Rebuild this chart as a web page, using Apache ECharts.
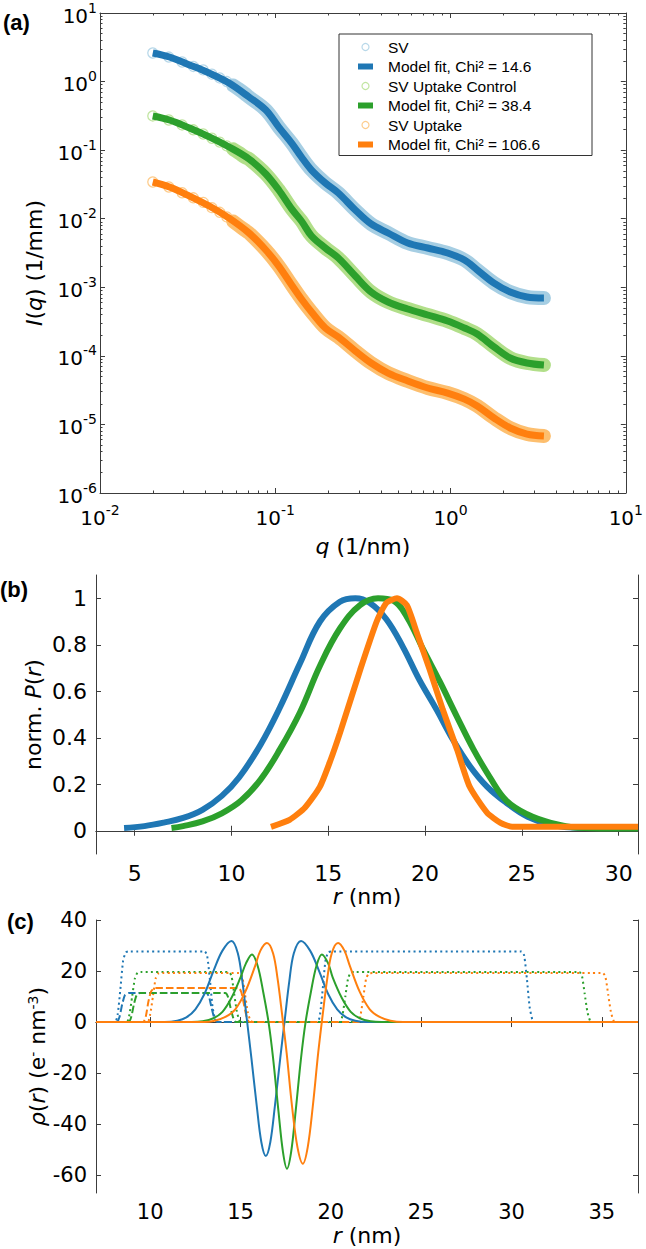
<!DOCTYPE html>
<html><head><meta charset="utf-8">
<script src="https://cdn.jsdelivr.net/npm/echarts@6/dist/echarts.min.js"></script>
<style>html,body{margin:0;padding:0;background:#fff}#c{width:646px;height:1249px}</style>
</head><body><div id="c"></div>
<script>
// ---------- Panel (a): SAXS curves ----------
const qData = [0.02,0.0247,0.0294,0.0341,0.0388,0.0435,0.0482,0.0529,0.0576,0.0623,0.067,0.0708,0.0883,0.1047,0.124,0.141,0.161,0.193,0.229,0.286,0.352,0.44,0.57,0.741,0.962,1.20,1.42,1.77,2.19,2.73,3.41];
const svData = [2.61,2.28,1.93,1.66,1.48,1.28,1.13,1.0,0.877,0.766,0.668,0.595,0.385,0.217,0.127,0.0794,0.0513,0.0332,0.0237,0.0134,0.00838,0.00619,0.00443,0.00374,0.00316,0.00250,0.00179,0.00115,0.000853,0.000722,0.000698];
const ctrlData = [0.315,0.275,0.233,0.198,0.172,0.149,0.131,0.115,0.1026,0.0905,0.0794,0.0743,0.0449,0.0262,0.0139,0.00927,0.00560,0.00374,0.00267,0.00146,0.000853,0.000610,0.000482,0.000394,0.000322,0.000255,0.000208,0.000135,0.0000931,0.0000787,0.0000736];
const uptData = [0.0343,0.0290,0.0239,0.0202,0.0173,0.0145,0.0124,0.0106,0.0091,0.00783,0.00684,0.00619,0.00350,0.00204,0.00108,0.000675,0.000436,0.000255,0.000188,0.000118,0.0000787,0.0000562,0.0000430,0.0000340,0.0000287,0.0000234,0.0000186,0.0000124,0.00000887,0.00000724,0.00000678];
const qFit = [0.02,0.0249,0.0324,0.042,0.0545,0.0708,0.0883,0.1047,0.124,0.141,0.161,0.193,0.229,0.286,0.352,0.44,0.57,0.741,0.962,1.20,1.42,1.77,2.19,2.73,3.41];
const svFit = [2.61,2.28,1.75,1.33,0.953,0.595,0.385,0.217,0.127,0.0794,0.0513,0.0332,0.0237,0.0134,0.00838,0.00619,0.00443,0.00374,0.00316,0.00250,0.00179,0.00115,0.000853,0.000722,0.000698];
const ctrlFit = [0.315,0.275,0.210,0.156,0.111,0.0743,0.0449,0.0262,0.0139,0.00927,0.00560,0.00374,0.00267,0.00146,0.000853,0.000610,0.000482,0.000394,0.000322,0.000255,0.000208,0.000135,0.0000931,0.0000787,0.0000736];
const uptFit = [0.0343,0.0290,0.0214,0.0153,0.0102,0.00619,0.00350,0.00204,0.00108,0.000675,0.000436,0.000255,0.000188,0.000118,0.0000787,0.0000562,0.0000430,0.0000340,0.0000287,0.0000234,0.0000186,0.0000124,0.00000887,0.00000724,0.00000678];
const seriesNamesA = ['SV','Model fit, Chi\u00b2 = 14.6','SV Uptake Control','Model fit, Chi\u00b2 = 38.4','SV Uptake','Model fit, Chi\u00b2 = 106.6'];
const decadesX = [0.01,0.1,1,10];
const minorX = [0.02,0.03,0.04,0.05,0.06,0.07,0.08,0.09,0.2,0.3,0.4,0.5,0.6,0.7,0.8,0.9,2,3,4,5,6,7,8,9];
const decadesY = [1e-6,1e-5,1e-4,1e-3,1e-2,1e-1,1,10];
const minorY = [];
[1e-6,1e-5,1e-4,1e-3,1e-2,1e-1,1].forEach(d=>{for(let k=2;k<=9;k++) minorY.push(+(d*k).toPrecision(3));});

// ---------- Panel (b): size distributions ----------
const pSV = [[4.45,0.012],[5.5,0.02],[6.5,0.035],[7.5,0.055],[8.5,0.09],[9.5,0.15],[10.4,0.23],[11.5,0.37],[12.5,0.53],[13.54,0.72],[14.57,0.9],[15.6,0.985],[16.4,1.0],[17.15,0.98],[18.0,0.91],[18.86,0.79],[19.7,0.65],[20.6,0.52],[21.45,0.39],[22.3,0.28],[23.2,0.19],[24.2,0.12],[25.3,0.06],[26.5,0.026],[27.9,0.013],[29.5,0.012],[31,0.012]];
const pCtrl = [[6.9,0.012],[7.5,0.02],[8.5,0.04],[9.5,0.075],[10.5,0.13],[11.5,0.22],[12.5,0.35],[13.54,0.51],[14.57,0.71],[15.6,0.87],[16.64,0.97],[17.57,1.0],[18.35,0.99],[19.06,0.92],[19.9,0.78],[20.77,0.64],[21.65,0.49],[22.5,0.35],[23.35,0.23],[24.2,0.13],[25.3,0.07],[26.5,0.034],[27.9,0.013],[29.5,0.01],[31,0.01]];
const pUpt = [[12.04,0.017],[13.0,0.047],[13.8,0.1],[14.57,0.19],[15.1,0.3],[15.6,0.42],[16.64,0.69],[17.5,0.9],[18.0,0.98],[18.55,1.0],[19.06,0.97],[19.58,0.85],[20.25,0.69],[20.92,0.52],[21.65,0.35],[22.3,0.19],[23.2,0.078],[23.9,0.034],[24.5,0.017],[31,0.017]];
const ticksRb = [5,10,15,20,25,30];
const ticksPb = [0,0.2,0.4,0.6,0.8,1];

// ---------- Panel (c): electron density profiles ----------
const rhoSVsolid = [[7,0],[10.8,0],[11.5,0.5],[12.0,1.8],[12.5,5],[13.0,11],[13.5,20],[14.0,28],[14.5,31.8],[14.85,27],[15.1,16],[15.35,1],[15.6,-14],[15.9,-33],[16.15,-47],[16.4,-52.5],[16.65,-47],[16.9,-33],[17.2,-14],[17.45,1],[17.7,16],[17.95,27],[18.35,31.8],[18.85,28],[19.35,20],[19.85,11],[20.35,5],[20.85,1.8],[21.35,0.5],[22,0],[37,0]];
const rhoCtrlSolid = [[7,0],[12.3,0],[12.9,0.3],[13.5,1.5],[14.0,4],[14.5,9.5],[15.0,17.5],[15.3,23],[15.63,26.5],[15.95,22],[16.25,12],[16.55,0],[16.8,-14],[17.1,-35],[17.35,-51],[17.57,-57.5],[17.8,-51],[18.05,-35],[18.35,-14],[18.6,0],[18.9,12],[19.2,22],[19.5,26.5],[19.85,23],[20.1,17.5],[20.6,9.5],[21.1,4],[21.6,1.5],[22.2,0.3],[22.8,0],[37,0]];
const rhoUptSolid = [[7,0],[13.0,0],[13.56,0.5],[14.16,2],[14.71,5],[15.26,11.8],[15.81,22],[16.1,28],[16.46,31],[16.8,27],[17.05,17],[17.3,3],[17.55,-12],[17.85,-33],[18.15,-49],[18.45,-55.5],[18.72,-49],[19.0,-33],[19.3,-12],[19.55,3],[19.8,17],[20.05,27],[20.4,31],[20.75,28],[21.05,22],[21.6,11.8],[22.15,5],[22.7,2],[23.3,0.5],[24,0],[37,0]];
const rhoSVdot = [[7,0],[8.05,0],[8.2,3],[8.35,13],[8.5,24],[8.65,27.3],[8.85,27.7],[13.0,27.7],[13.15,26],[13.3,17],[13.45,6],[13.6,1],[13.75,0],[19.25,0],[19.4,3],[19.55,13],[19.7,24],[19.85,27.3],[20.05,27.7],[30.55,27.7],[30.7,26],[30.85,17],[31.0,6],[31.15,1],[31.3,0],[37,0]];
const rhoCtrlDot = [[7,0],[8.7,0],[8.85,3],[9.0,10],[9.15,17],[9.3,19.4],[9.5,19.6],[14.35,19.6],[14.5,18],[14.65,11],[14.8,4],[14.95,0.5],[15.1,0],[20.5,0],[20.65,3],[20.8,10],[20.95,17],[21.1,19.4],[21.3,19.6],[33.75,19.6],[33.9,18],[34.05,11],[34.2,4],[34.35,0.5],[34.5,0],[37,0]];
const rhoUptDot = [[7,0],[9.85,0],[10.0,3],[10.15,10],[10.3,17],[10.45,19],[10.65,19.2],[14.95,19.2],[15.1,17.6],[15.25,10.8],[15.4,4],[15.55,0.5],[15.7,0],[21.5,0],[21.65,3],[21.8,10],[21.95,17],[22.1,19],[22.3,19.2],[35.05,19.2],[35.2,17.6],[35.35,10.8],[35.5,4],[35.65,0.5],[35.8,0],[37,0]];
const rhoSVdash = [[7,0],[8.15,0],[8.3,2],[8.45,7],[8.6,10.5],[8.8,11.4],[13.1,11.4],[13.25,10],[13.4,5.5],[13.55,1.5],[13.7,0],[37,0]];
const rhoCtrlDash = [[7,0],[8.8,0],[8.95,2],[9.1,7],[9.25,10.5],[9.45,11.4],[14.15,11.4],[14.3,10],[14.45,5.5],[14.6,1.5],[14.75,0],[37,0]];
const rhoUptDash = [[7,0],[9.6,0],[9.75,2],[9.9,8],[10.05,12],[10.25,13.3],[14.9,13.3],[15.05,11.6],[15.2,6.5],[15.35,1.7],[15.5,0],[37,0]];
const ticksRc = [10,15,20,25,30,35];
const ticksRhoC = [-60,-40,-20,0,20,40];

// ---------- styling ----------
const FONT = 'DejaVu Sans';
const AX = '#3c3c3c';
const C = {blue:'#1f77b4', green:'#2ca02c', orange:'#ff7f0e', lblue:'#a6cee3', lgreen:'#b2df8a', lorange:'#fdbf6f'};
const powRich = {
  b:{fontFamily:FONT, fontSize:20, color:'#000', lineHeight:25, verticalAlign:'bottom'},
  s:{fontFamily:FONT, fontSize:14, color:'#000', lineHeight:15, verticalAlign:'top'}
};
function powFmt(v){ const e = Math.round(Math.log10(v)); return '{b|10}{s|' + (e<0 ? '-' + (-e) : e) + '}'; }
const NAMESZ = 22;
function nameStyle(pad){ return {fontFamily:FONT, fontSize:NAMESZ, color:'#000', padding:pad||0, rich:{
  i:{fontFamily:FONT, fontSize:NAMESZ, fontStyle:'italic', color:'#000'},
  s:{fontFamily:FONT, fontSize:14, color:'#000', verticalAlign:'top', lineHeight:14}}}; }

function ax(o){
  const a = {
    gridIndex:o.g, type:o.type||'value', position:o.pos,
    min:o.min, max:o.max, splitLine:{show:false},
    axisLine:{show:o.line!==false, lineStyle:{color:AX, width:1}},
    axisTick:{show:true, inside:true, length:(o.len||5), customValues:o.ticks, lineStyle:{color:AX, width:1}},
    axisLabel:o.labels ? Object.assign({show:true, customValues:o.ticks, color:'#000', fontFamily:FONT, fontSize:o.fs||21}, o.labels) : {show:false}
  };
  if (o.type === 'log') a.logBase = 10;
  if (o.name) Object.assign(a, {name:o.name, nameLocation:'middle', nameGap:o.nameGap, nameRotate:o.nameRotate||0, nameMoveOverlap:false, nameTextStyle:nameStyle(o.namePad)});
  return a;
}

const xAxis = [
  ax({g:0,type:'log',pos:'bottom',min:0.01,max:10,ticks:decadesX,labels:{formatter:powFmt,rich:powRich,margin:10},name:'{i|q} (1/nm)',nameGap:42}),
  ax({g:0,type:'log',pos:'bottom',min:0.01,max:10,ticks:minorX,len:2.5,line:false}),
  ax({g:0,type:'log',pos:'top',min:0.01,max:10,ticks:decadesX}),
  ax({g:0,type:'log',pos:'top',min:0.01,max:10,ticks:minorX,len:2.5,line:false}),
  ax({g:1,pos:'bottom',min:3,max:31,ticks:ticksRb,fs:22,labels:{margin:8},name:'{i|r} (nm)',nameGap:31}),
  ax({g:1,pos:'top',min:3,max:31,ticks:ticksRb}),
  ax({g:2,pos:'bottom',min:7,max:37,ticks:ticksRc,fs:21,labels:{margin:8},name:'{i|r} (nm)',nameGap:31}),
  ax({g:2,pos:'top',min:7,max:37,ticks:ticksRc})
];
const yAxis = [
  ax({g:0,type:'log',pos:'left',min:1e-6,max:10,ticks:decadesY,labels:{formatter:powFmt,rich:powRich,margin:3},name:'{i|I}({i|q}) (1/mm)',nameGap:55,nameRotate:90,namePad:[0,20,0,0]}),
  ax({g:0,type:'log',pos:'left',min:1e-6,max:10,ticks:minorY,len:2.5,line:false}),
  ax({g:0,type:'log',pos:'right',min:1e-6,max:10,ticks:decadesY}),
  ax({g:0,type:'log',pos:'right',min:1e-6,max:10,ticks:minorY,len:2.5,line:false}),
  ax({g:1,pos:'left',min:-0.1,max:1.1,ticks:ticksPb,fs:22,labels:{margin:9},name:'norm. {i|P}({i|r})',nameGap:52,nameRotate:90}),
  ax({g:1,pos:'right',min:-0.1,max:1.1,ticks:ticksPb}),
  ax({g:2,pos:'left',min:-67,max:40,ticks:ticksRhoC,fs:21,labels:{margin:9},name:'{i|\u03c1}({i|r}) (e{s|-} nm{s|-3})',nameGap:48,nameRotate:90}),
  ax({g:2,pos:'right',min:-67,max:40,ticks:ticksRhoC})
];

const series = [];
const groupsA = [
  {d:svData, f:svFit, light:C.lblue, dark:C.blue, n:0},
  {d:ctrlData, f:ctrlFit, light:C.lgreen, dark:C.green, n:2},
  {d:uptData, f:uptFit, light:C.lorange, dark:C.orange, n:4}
];
groupsA.forEach(gr=>{
  const pts = qData.map((q,i)=>[q, gr.d[i]]);
  series.push({type:'line', name:seriesNamesA[gr.n]+' band', xAxisIndex:0, yAxisIndex:0, data:pts.filter(p=>p[0]>=0.057),
    showSymbol:false, smooth:0.35, silent:true, lineStyle:{color:gr.light, width:14, cap:'round', join:'round'}, z:1});
  series.push({type:'scatter', name:seriesNamesA[gr.n], xAxisIndex:0, yAxisIndex:0, data:pts, symbol:'circle', symbolSize:10,
    itemStyle:{color:'rgba(255,255,255,0)', borderColor:gr.light, borderWidth:1.3}, z:2, silent:true});
  series.push({type:'line', name:seriesNamesA[gr.n+1], xAxisIndex:0, yAxisIndex:0, data:qFit.map((q,i)=>[q, gr.f[i]]),
    showSymbol:false, smooth:0.35, lineStyle:{color:gr.dark, width:7, cap:'butt'}, z:3, silent:true});
});
[[pSV,C.blue,0.4],[pCtrl,C.green,0.4],[pUpt,C.orange,0.2]].forEach(([d,c,s])=>{
  series.push({type:'line', xAxisIndex:4, yAxisIndex:4, data:d, showSymbol:false, smooth:s, silent:true, lineStyle:{color:c, width:6}});
});
const dotT = [2,3.3], dashT = [7.4,3.2];
[[rhoSVdot,C.blue,dotT],[rhoCtrlDot,C.green,dotT],[rhoUptDot,C.orange,dotT],
 [rhoSVdash,C.blue,dashT],[rhoCtrlDash,C.green,dashT],[rhoUptDash,C.orange,dashT],
 [rhoSVsolid,C.blue,'solid'],[rhoCtrlSolid,C.green,'solid'],[rhoUptSolid,C.orange,'solid']].forEach(([d,c,t])=>{
  series.push({type:'line', xAxisIndex:6, yAxisIndex:6, data:d, showSymbol:false, smooth:t==='solid'?0.35:0.2, silent:true,
    lineStyle:{color:c, width:2, type:t}});
});

const legendIconLine = 'path://M0,0H15V6H0Z';
const titleStyle = {fontFamily:'Liberation Sans', fontWeight:'bold', fontSize:22, color:'#000'};
const option = {
  animation:false,
  backgroundColor:'#fff',
  title:[
    {text:'(a)', left:3, top:11, padding:0, textStyle:titleStyle},
    {text:'(b)', left:0, top:578, padding:0, textStyle:titleStyle},
    {text:'(c)', left:7, top:910, padding:0, textStyle:titleStyle}
  ],
  legend:{
    left:339, top:34, orient:'vertical', selectedMode:false,
    itemWidth:15, itemHeight:7, itemGap:3.5, symbolKeepAspect:true,
    padding:[5,20,3,19], borderColor:'#333', borderWidth:1, borderRadius:0, backgroundColor:'#fff',
    formatter: name => '{t|' + name + '}',
    textStyle:{fontFamily:'Liberation Sans', fontSize:15.5, color:'#000', lineHeight:16,
      rich:{t:{fontFamily:'Liberation Sans', fontSize:15.5, color:'#000', lineHeight:16, width:184, padding:[0,0,0,10]}}},
    data:[
      {name:seriesNamesA[0], icon:'circle', itemStyle:{color:'#fff', borderColor:C.lblue, borderWidth:1.2}},
      {name:seriesNamesA[1], icon:legendIconLine, itemStyle:{color:C.blue, borderWidth:0}},
      {name:seriesNamesA[2], icon:'circle', itemStyle:{color:'#fff', borderColor:C.lgreen, borderWidth:1.2}},
      {name:seriesNamesA[3], icon:legendIconLine, itemStyle:{color:C.green, borderWidth:0}},
      {name:seriesNamesA[4], icon:'circle', itemStyle:{color:'#fff', borderColor:C.lorange, borderWidth:1.2}},
      {name:seriesNamesA[5], icon:legendIconLine, itemStyle:{color:C.orange, borderWidth:0}}
    ]
  },
  grid:[
    {left:100, top:13, width:529, height:480},
    {left:96, top:575, width:542, height:279},
    {left:96, top:920, width:542, height:273}
  ],
  xAxis, yAxis, series
};
const chart = echarts.init(document.getElementById('c'), null, {renderer:'svg'});
chart.setOption(option);
</script>
</body></html>
